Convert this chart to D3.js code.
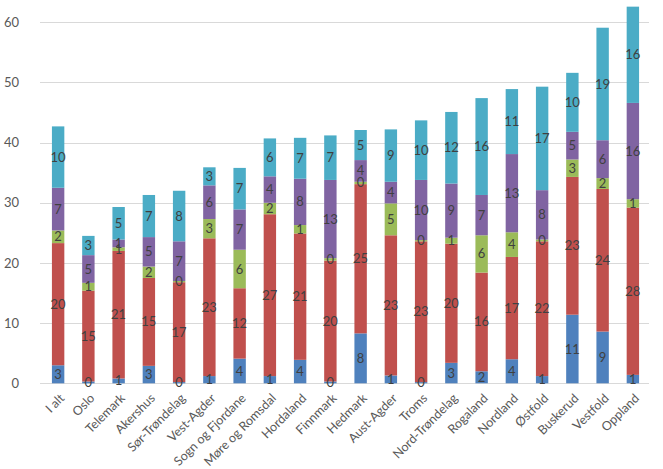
<!DOCTYPE html>
<html><head><meta charset="utf-8">
<script src="https://cdn.jsdelivr.net/npm/d3@7/dist/d3.min.js"></script>
<style>body{margin:0;background:#fff;} svg{display:block;}</style>
</head><body>
<svg id="chart" width="663" height="469"></svg>
<script>
const categories = ["I alt","Oslo","Telemark","Akershus","Sør-Trøndelag","Vest-Agder","Sogn og Fjordane","Møre og Romsdal","Hordaland","Finnmark","Hedmark","Aust-Agder","Troms","Nord-Trøndelag","Rogaland","Nordland","Østfold","Buskerud","Vestfold","Oppland"];
const seriesBlue   = [3.0, 0.3, 0.8, 2.9, 0.2, 1.2, 4.1, 1.2, 3.9, 0.3, 8.3, 1.3, 0.2, 3.4, 2.0, 4.0, 1.2, 11.4, 8.6, 1.4];
const seriesRed    = [20.3, 15.1, 21.2, 14.6, 16.6, 22.9, 11.7, 26.9, 21.0, 20.1, 24.8, 23.3, 23.4, 19.8, 16.4, 17.0, 22.4, 22.9, 23.7, 27.8];
const seriesGreen  = [2.1, 1.3, 0.6, 1.9, 0.2, 3.2, 6.4, 1.9, 1.4, 0.4, 0.4, 5.3, 0.2, 1.0, 6.2, 4.1, 0.3, 2.9, 1.8, 1.4];
const seriesPurple = [7.1, 4.6, 1.3, 4.9, 6.6, 5.6, 6.7, 4.4, 7.7, 13.0, 3.6, 3.6, 10.0, 9.0, 6.7, 13.0, 8.2, 4.6, 6.3, 16.0];
const seriesCyan   = [10.2, 3.2, 5.4, 7.0, 8.4, 3.0, 6.9, 6.3, 6.8, 7.4, 5.0, 8.7, 9.9, 11.9, 16.1, 10.8, 17.2, 9.8, 18.7, 16.0];
const yTicks = [0, 10, 20, 30, 40, 50, 60];

const seriesList = [seriesBlue, seriesRed, seriesGreen, seriesPurple, seriesCyan];
const colors = ["#4F81BD", "#C0504D", "#9BBB59", "#8064A2", "#4BACC6"];
const FONT = "Lato, 'Open Sans', sans-serif";

const svg = d3.select("#chart");
const x = d3.scaleBand().domain(categories).range([43, 648]).paddingInner(0.59).paddingOuter(0.295);
const y = d3.scaleLinear().domain([0, 60]).range([383.3, 22.3]);

// gridlines
svg.append("g").selectAll("line").data(yTicks).join("line")
  .attr("x1", 40).attr("x2", 649)
  .attr("y1", d => Math.round(y(d)) + 0.5).attr("y2", d => Math.round(y(d)) + 0.5)
  .attr("stroke", "#D9D9D9").attr("stroke-width", 1);

// y axis labels
const yAxis = d3.axisLeft(y).tickValues(yTicks).tickSize(0).tickPadding(0);
const gy = svg.append("g").attr("transform", "translate(19,0)").call(yAxis);
gy.select(".domain").remove();
gy.selectAll("text").attr("font-family", FONT).attr("font-size", 13).attr("fill", "#595959");

// stacked data
const table = categories.map((c, i) => {
  const o = {cat: c};
  seriesList.forEach((s, k) => o["s" + k] = s[i]);
  return o;
});
const keys = seriesList.map((s, k) => "s" + k);
const stacked = d3.stack().keys(keys)(table);

const layers = svg.append("g").selectAll("g").data(stacked).join("g")
  .attr("fill", (d, i) => colors[i]);
layers.selectAll("rect").data(d => d).join("rect")
  .attr("x", d => x(d.data.cat))
  .attr("width", x.bandwidth())
  .attr("y", d => y(d[1]))
  .attr("height", d => y(d[0]) - y(d[1]));

// data labels
const lbl = svg.append("g");
stacked.forEach((layer, i) => {
  lbl.selectAll(null).data(layer).join("text")
    .attr("x", d => x(d.data.cat) + x.bandwidth() / 2)
    .attr("y", d => (y(d[0]) + y(d[1])) / 2)
    .attr("dy", "0.35em")
    .attr("text-anchor", "middle")
    .attr("font-family", FONT)
    .attr("font-size", 13)
    .attr("fill", "#404040")
    .text(d => Math.round(d[1] - d[0]));
});

// x axis labels
const xAxis = d3.axisBottom(x).tickSize(0).tickPadding(0);
const gx = svg.append("g").attr("transform", "translate(0,383)").call(xAxis);
gx.select(".domain").remove();
gx.selectAll("text")
  .attr("font-family", FONT).attr("font-size", 12.5).attr("fill", "#595959")
  .attr("text-anchor", "end")
  .attr("dy", null).attr("y", 0)
  .attr("transform", "translate(7,16) rotate(-45)");
</script>
</body></html>
